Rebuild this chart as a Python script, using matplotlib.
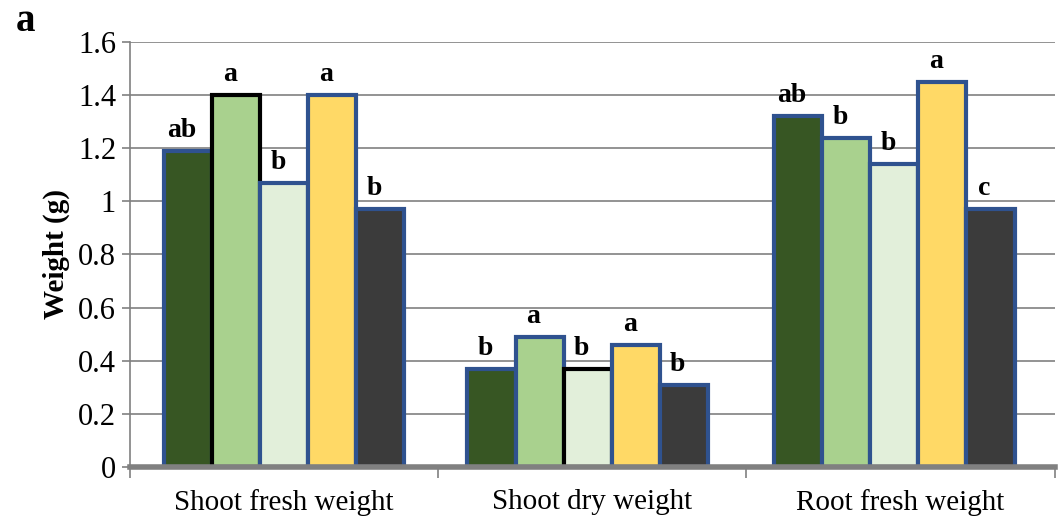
import numpy as np
import matplotlib.pyplot as plt

plt.rcParams['font.family'] = ['Liberation Serif', 'DejaVu Serif']

# Data
groups = ["Shoot fresh weight", "Shoot dry weight", "Root fresh weight"]
shoot_fresh = [1.19, 1.40, 1.07, 1.40, 0.97]
shoot_dry = [0.37, 0.49, 0.37, 0.46, 0.31]
root_fresh = [1.32, 1.24, 1.14, 1.45, 0.97]
letters = [["ab", "a", "b", "a", "b"],
           ["b", "a", "b", "a", "b"],
           ["ab", "b", "b", "a", "c"]]

colors = ["#375623", "#a9d18e", "#e2efda", "#ffd966", "#3b3b3b"]
navy = "#2f528f"
edges = [[navy, "black", navy, navy, navy],
         [navy, navy, "black", navy, navy],
         [navy, navy, navy, navy, navy]]

values = [shoot_fresh, shoot_dry, root_fresh]

fig = plt.figure(figsize=(10.61, 5.23), dpi=100)
ax = fig.add_axes([0.1225, 0.107, 0.8715, 0.813])

width = 0.156
x = np.arange(len(groups))
for g, vals in enumerate(values):
    for i, v in enumerate(vals):
        xpos = x[g] + (i - 2) * width - 0.015 * g + 0.01 * (g == 2)
        ax.bar(xpos, v, width, color=colors[i], edgecolor=edges[g][i],
               linewidth=3, zorder=3)
        ax.text(xpos - 0.02, v + 0.03, letters[g][i], ha='center', va='bottom',
                fontsize=20, fontweight='bold', zorder=4)

ax.set_xlim(-0.5, 2.5)
ax.set_ylim(0, 1.6)
ax.set_yticks(np.arange(0, 1.61, 0.2))
ax.set_yticklabels(["0", "0.2", "0.4", "0.6", "0.8", "1", "1.2", "1.4", "1.6"])
ax.set_xticks(x)
ax.set_xticklabels(groups)
ax.set_xticks([-0.5, 0.5, 1.5, 2.5], minor=True)
ax.tick_params(axis='x', which='major', length=0, labelsize=21, pad=16)
ax.tick_params(axis='x', which='minor', length=8, color='#808080', width=1.2)
ax.tick_params(axis='y', labelsize=22, length=6, color='#808080', width=1.2, pad=4)
ax.yaxis.grid(True, color='#808080', linewidth=1.2, zorder=0)

for s in ['top', 'right']:
    ax.spines[s].set_visible(False)
ax.spines['left'].set_color('#808080')
ax.spines['left'].set_linewidth(1.2)
ax.spines['bottom'].set_color('#808080')
ax.spines['bottom'].set_linewidth(4)
ax.spines['bottom'].set_zorder(5)

ax.set_ylabel("Weight (g)", fontsize=21, fontweight='bold', labelpad=6)
fig.text(0.015, 0.94, "a", fontsize=28, fontweight='bold')

fig.savefig("out.png", dpi=100)
